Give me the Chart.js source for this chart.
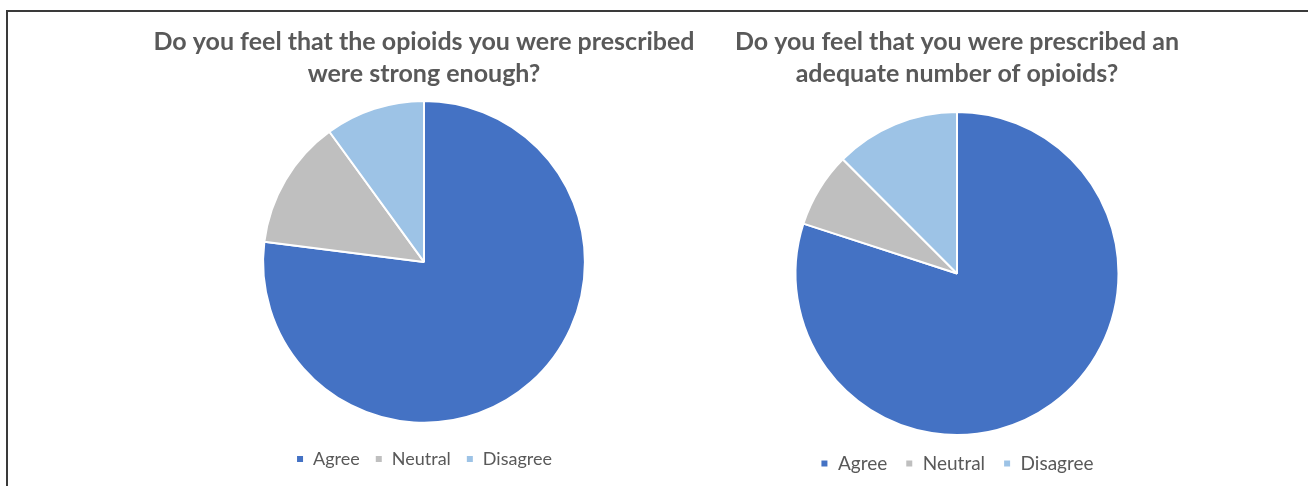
<!DOCTYPE html>
<html>
<head>
<meta charset="utf-8">
<script src="https://cdn.jsdelivr.net/npm/chart.js@4"></script>
<style>
	html, body { margin: 0; padding: 0; background: #fff; }
	#page { position: relative; width: 1308px; height: 486px; overflow: hidden; }
	#frame { position: absolute; left: 6px; top: 10px; width: 1400px; height: 600px; border-top: 2px solid #3a3a3a; border-left: 2px solid #3a3a3a; }
	.box { position: absolute; top: 0; }
	#leftBox { left: 134px; width: 580px; height: 478px; }
	#rightBox { left: 700px; width: 514px; height: 483px; }
</style>
</head>
<body>
<div id="page">
	<div id="frame"></div>
	<div class="box" id="leftBox"><canvas id="strengthChart"></canvas></div>
	<div class="box" id="rightBox"><canvas id="amountChart"></canvas></div>
</div>
<script>
// answers shared by both questions
const categories = ['Agree', 'Neutral', 'Disagree'];
const sliceColors = ['#4472C4', '#BFBFBF', '#9DC3E6'];

// share of answers, percent
const strengthValues = [77, 13, 10];
const amountValues = [80, 7.5, 12.5];

const strengthTitle = ['Do you feel that the opioids you were prescribed', 'were strong enough?'];
const amountTitle = ['Do you feel that you were prescribed an', 'adequate number of opioids?'];

const textColor = '#595959';
const fontFamily = 'Lato, "Open Sans", sans-serif';

// layout - title gap below, legend gap above (null = none), legend font and spacing
function createPieChart (chartEl, titleLines, values, layout) {
	return new Chart(chartEl, {
		type: 'pie',
		data: {
			labels: categories,
			datasets: [{
				data: values,
				backgroundColor: sliceColors,
				borderColor: '#ffffff',
				borderWidth: 2,
			}],
		},
		options: {
			responsive: true,
			maintainAspectRatio: false,
			animation: false,
			plugins: {
				title: {
					display: true,
					text: titleLines,
					color: textColor,
					font: { family: fontFamily, size: 25, weight: 'bold', lineHeight: 1.28 },
					padding: { top: 26, bottom: layout.titleGap },
				},
				legend: {
					position: 'bottom',
					title: {
						// empty legend title, only used as spacer above the items
						display: layout.legendGap !== null,
						text: '',
						font: { size: 1 },
						padding: { top: layout.legendGap || 0, bottom: 0 },
					},
					labels: {
						color: textColor,
						font: { family: fontFamily, size: layout.legendSize },
						boxWidth: 8,
						boxHeight: 8,
						padding: layout.legendPadding,
					},
				},
				tooltip: { enabled: false },
			},
		},
	});
}

createPieChart(document.getElementById('strengthChart'), strengthTitle, strengthValues,
	{ titleGap: 10, legendGap: 10, legendSize: 18, legendPadding: 15 });
createPieChart(document.getElementById('amountChart'), amountTitle, amountValues,
	{ titleGap: 21, legendGap: null, legendSize: 19, legendPadding: 18 });
</script>
</body>
</html>
